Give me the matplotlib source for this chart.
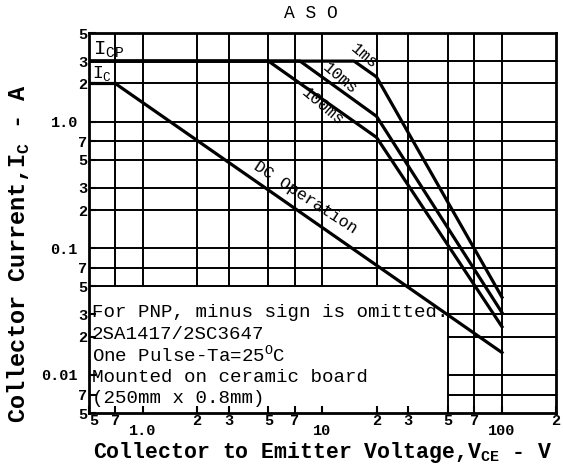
import matplotlib
matplotlib.use('agg')
import matplotlib.pyplot as plt

# safe operating area curves (VCE [V], IC [A])
dc_v = [0.7, 100]
dc_i = [2.0, 0.015]
ms100_v = [0.5, 5, 20, 100]
ms100_i = [3.0, 3.0, 0.75, 0.024]
ms10_v = [0.5, 7.5, 20, 100]
ms10_i = [3.0, 3.0, 1.1, 0.031]
ms1_v = [0.5, 15, 20, 100]
ms1_i = [3.0, 3.0, 2.25, 0.041]
ic_v = [0.5, 0.7]
ic_i = [2.0, 2.0]

grid_x = [0.7, 1, 2, 3, 5, 7, 10, 20, 30, 50, 70, 100]
grid_y = [3, 2, 1, 0.7, 0.5, 0.3, 0.2, 0.1, 0.07, 0.05, 0.03, 0.02, 0.01, 0.007]

x_minor = [0.5, 0.7, 2, 3, 5, 7, 20, 30, 50, 70, 200]
x_minor_lab = ['5', '7', '2', '3', '5', '7', '2', '3', '5', '7', '2']
x_major = [1, 10, 100]
x_major_lab = ['1.0', '10', '100']
y_minor = [5, 3, 2, 0.7, 0.5, 0.3, 0.2, 0.07, 0.05, 0.03, 0.02, 0.007, 0.005]
y_minor_lab = ['5', '3', '2', '7', '5', '3', '2', '7', '5', '3', '2', '7', '5']
y_major = [1, 0.1, 0.01]
y_major_lab = ['1.0', '0.1', '0.01']

note_lines = ['For PNP, minus sign is omitted.',
              '2SA1417/2SC3647',
              'One Pulse-Ta=25$^{\\rm O}$C',
              'Mounted on ceramic board',
              '(250mm x 0.8mm)']

plt.rcParams['font.family'] = ['Liberation Mono', 'DejaVu Sans Mono']
plt.rcParams['mathtext.fontset'] = 'custom'
plt.rcParams['mathtext.rm'] = 'Liberation Mono'
plt.rcParams['mathtext.bf'] = 'Liberation Mono:bold'

fig = plt.figure(figsize=(5.63, 4.75), dpi=100)
ax = fig.add_axes([0.158, 0.1305, 0.8296, 0.8])
ax.set_xscale('log')
ax.set_yscale('log')
ax.set_xlim(0.5, 200)
ax.set_ylim(0.005, 5)

# grid, blank region behind the note box
for gx in grid_x:
    lo = 0.005 if gx >= 50 else 0.05
    ax.plot([gx, gx], [lo, 5], color='black', lw=1.4, zorder=1)
for gy in grid_y:
    lft = 0.5 if gy >= 0.05 else 50
    ax.plot([lft, 200], [gy, gy], color='black', lw=1.4, zorder=1)

lw = 2.3
ax.plot(dc_v, dc_i, color='black', lw=lw, zorder=3)
ax.plot(ms100_v, ms100_i, color='black', lw=lw, zorder=3)
ax.plot(ms10_v, ms10_i, color='black', lw=lw, zorder=3)
ax.plot(ms1_v, ms1_i, color='black', lw=lw, zorder=3)
ax.plot(ic_v, ic_i, color='black', lw=lw, zorder=3)

for s in ax.spines.values():
    s.set_linewidth(2)

ax.set_xticks(x_major)
ax.set_xticklabels(x_major_lab)
ax.set_xticks(x_minor, minor=True)
ax.set_xticklabels(x_minor_lab, minor=True)
ax.set_yticks(y_major)
ax.set_yticklabels(y_major_lab)
ax.set_yticks(y_minor, minor=True)
ax.set_yticklabels(y_minor_lab, minor=True)
ax.tick_params(axis='both', which='both', direction='in', length=5, width=1.5,
               labelsize=11)
ax.tick_params(axis='x', which='major', pad=8)
ax.tick_params(axis='x', which='minor', pad=1)
ax.tick_params(axis='y', which='major', pad=8)
ax.tick_params(axis='y', which='minor', pad=1)
for t in ax.get_xticklabels(which='both') + ax.get_yticklabels(which='both'):
    t.set_fontweight('bold')
ax.get_xticklabels(minor=True)[0].set_ha('left')

ax.set_xlabel('Collector to Emitter Voltage,V$_{\\mathbf{CE}}$ - V', fontsize=15.5,
              fontweight='bold', labelpad=1)
ax.set_ylabel('Collector Current,I$_{\\mathbf{C}}$ - A', fontsize=17,
              fontweight='bold')
ax.yaxis.set_label_coords(-0.122, 0.42)
fig.text(311 / 563, 1 - 14 / 475, 'A S O', fontsize=13, ha='center', va='center')

ax.text(0.53, 3.4, 'I$_{\\rm CP}$', fontsize=15, zorder=4)
ax.text(0.52, 2.2, 'I$_{\\rm C}$', fontsize=13, zorder=4)
ax.text(17, 3.3, '1ms', fontsize=12, rotation=-40, ha='center', va='center')
ax.text(12.5, 2.2, '10ms', fontsize=12, rotation=-40, ha='center', va='center')
ax.text(10, 1.3, '100ms', fontsize=12, rotation=-40, ha='center', va='center')
ax.text(8, 0.25, 'DC Operation', fontsize=12, rotation=-33, ha='center', va='center')

for k, line in enumerate(note_lines):
    ax.text(0.52, 0.031 / (1.48 ** k), line, fontsize=13.8, va='center', ha='left', zorder=4)

fig.savefig('out.png', dpi=100)
